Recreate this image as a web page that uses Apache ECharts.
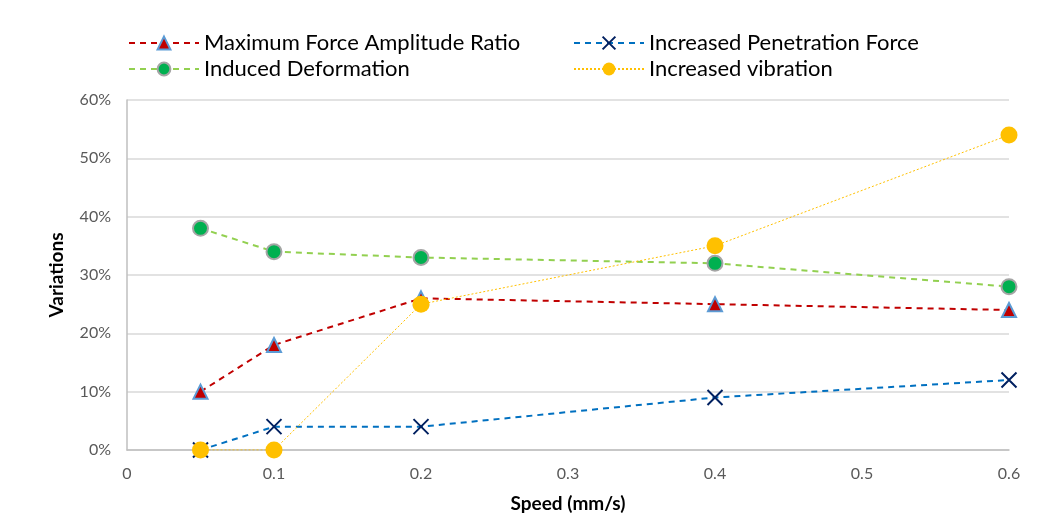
<!DOCTYPE html>
<html>
<head>
<meta charset="utf-8">
<style>
  html, body { margin: 0; padding: 0; background: #fff; }
  #chart { width: 1057px; height: 513px; }
</style>
<script src="https://cdn.jsdelivr.net/npm/echarts@6/dist/echarts.min.js"></script>
</head>
<body>
<div id="chart"></div>
<script>
// speeds (mm/s)
const speeds = [0.05, 0.1, 0.2, 0.4, 0.6]
// variations, in percent
const maxForceRatio = [10, 18, 26, 25, 24]
const penetrationForce = [0, 4, 4, 9, 12]
const inducedDeformation = [38, 34, 33, 32, 28]
const increasedVibration = [0, 0, 25, 35, 54]

const FONT = 'Lato, "Open Sans", sans-serif'

function pairs(values) {
  return speeds.map((s, i) => [s, values[i]])
}

const myChart = echarts.init(document.getElementById('chart'))

const legendBase = {
  orient: 'vertical',
  top: 27,
  itemWidth: 70,
  itemHeight: 16,
  itemGap: 4,
  textStyle: { fontFamily: FONT, fontSize: 22, lineHeight: 20, color: '#000' },
  selectedMode: false
}

const option = {
  animation: false,
  grid: { left: 127, right: 48, top: 100, bottom: 63, outerBoundsMode: 'none' },
  legend: [
    Object.assign({}, legendBase, {
      left: 123,
      data: ['Maximum Force Amplitude Ratio', 'Induced Deformation']
    }),
    Object.assign({}, legendBase, {
      left: 568,
      data: ['Increased Penetration Force', 'Increased vibration']
    })
  ],
  xAxis: {
    type: 'value',
    min: 0,
    max: 0.6,
    interval: 0.1,
    name: 'Speed (mm/s)',
    nameLocation: 'middle',
    nameGap: 44,
    nameTextStyle: { fontFamily: FONT, fontSize: 19, fontWeight: 'bold', color: '#000' },
    axisLine: { lineStyle: { color: '#BFBFBF', width: 1.5 } },
    axisTick: { show: false },
    splitLine: { show: false },
    axisLabel: {
      fontFamily: FONT, fontSize: 16, color: '#595959', margin: 16,
      formatter: (v) => String(+v.toFixed(1))
    }
  },
  yAxis: {
    type: 'value',
    min: 0,
    max: 60,
    interval: 10,
    name: 'Variations',
    nameLocation: 'middle',
    nameGap: 61,
    nameRotate: 90,
    nameTextStyle: { fontFamily: FONT, fontSize: 19, fontWeight: 'bold', color: '#000' },
    axisLine: { show: true, lineStyle: { color: '#BFBFBF', width: 1.5 } },
    axisTick: { show: false },
    splitLine: { lineStyle: { color: '#D9D9D9', width: 1.5 } },
    axisLabel: {
      fontFamily: FONT, fontSize: 16, color: '#595959', margin: 16,
      formatter: '{value}%'
    }
  },
  series: [
    {
      name: 'Maximum Force Amplitude Ratio',
      type: 'line',
      data: pairs(maxForceRatio),
      symbol: 'triangle',
      symbolSize: 14,
      lineStyle: { color: '#C00000', width: 2, type: [6, 5] },
      itemStyle: { color: '#C00000', borderColor: '#5B9BD5', borderWidth: 2 },
      z: 2
    },
    {
      name: 'Increased Penetration Force',
      type: 'line',
      data: pairs(penetrationForce),
      symbol: 'path://M0,0 L10,10 M10,0 L0,10',
      symbolSize: 15,
      lineStyle: { color: '#0070C0', width: 2, type: [6, 5] },
      itemStyle: { color: '#002060', borderColor: '#002060', borderWidth: 2 },
      z: 3
    },
    {
      name: 'Induced Deformation',
      type: 'line',
      data: pairs(inducedDeformation),
      symbol: 'circle',
      symbolSize: 15,
      lineStyle: { color: '#92D050', width: 2, type: [6, 5] },
      itemStyle: { color: '#00B050', borderColor: '#A5A5A5', borderWidth: 2 },
      z: 4
    },
    {
      name: 'Increased vibration',
      type: 'line',
      data: pairs(increasedVibration),
      symbol: 'circle',
      symbolSize: 17,
      lineStyle: { color: '#FFC000', width: 1, type: [2, 2] },
      itemStyle: { color: '#FFC000', borderWidth: 0 },
      z: 5
    }
  ]
}

myChart.setOption(option)
window.addEventListener('resize', () => {
  if (myChart) myChart.resize()
})
</script>
</body>
</html>
